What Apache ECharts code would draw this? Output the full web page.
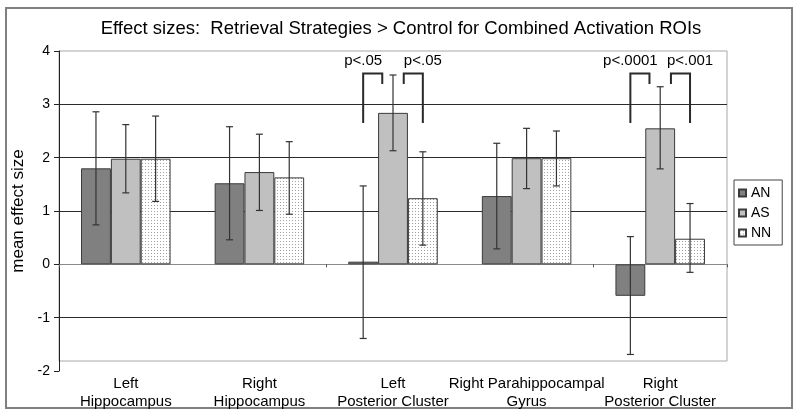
<!DOCTYPE html>
<html><head><meta charset="utf-8">
<script src="https://cdn.jsdelivr.net/npm/echarts@6/dist/echarts.min.js"></script>
<style>html,body{margin:0;padding:0;background:#fff}#c{width:800px;height:416px}</style>
</head><body><div id="c"></div>
<script>
// ---- data ----
const categories = ['Left\nHippocampus', 'Right\nHippocampus', 'Left\nPosterior Cluster', 'Right Parahippocampal\nGyrus', 'Right\nPosterior Cluster'];
const seriesNames = ['AN', 'AS', 'NN'];
const anMean = [1.80, 1.52, 0.05, 1.28, -0.59];
const anLow  = [0.74, 0.46, -1.39, 0.29, -1.69];
const anHigh = [2.86, 2.58, 1.47, 2.27, 0.52];
const asMean = [1.98, 1.73, 2.84, 1.99, 2.55];
const asLow  = [1.34, 1.01, 2.13, 1.42, 1.79];
const asHigh = [2.62, 2.44, 3.55, 2.55, 3.33];
const nnMean = [1.98, 1.63, 1.24, 1.99, 0.48];
const nnLow  = [1.18, 0.94, 0.36, 1.47, -0.15];
const nnHigh = [2.78, 2.30, 2.11, 2.50, 1.14];
const yTicks = [-2, -1, 0, 1, 2, 3, 4];
const sigCategory = [2, 2, 4, 4];
const sigLongBar  = [0, 2, 0, 2];
const sigShortBar = [1, 1, 1, 1];
const sigLabels = ['p<.05', 'p<.05', 'p<.0001', 'p<.001'];

// ---- rendering ----
const FONT = "'Liberation Sans', Arial, sans-serif";
const CAT_GAP = 0.33;
function dotPattern() {
  const c = document.createElement('canvas');
  c.width = 3; c.height = 3;
  const g = c.getContext('2d');
  g.fillStyle = '#ffffff'; g.fillRect(0, 0, 3, 3);
  g.fillStyle = '#a0a0a0'; g.fillRect(1, 1, 1, 1);
  return c;
}
const barColors = ['#808080', '#c0c0c0', { image: dotPattern(), repeat: 'repeat' }];
const means = [anMean, asMean, nnMean];
const lows = [anLow, asLow, nnLow];
const highs = [anHigh, asHigh, nnHigh];

function barWidthOf(api) {
  const band = api.size([1, 0])[0];
  return band * (1 - CAT_GAP) / 3;
}
function errorBarRender(barIdx) {
  return function (params, api) {
    const cat = api.value(0);
    const pLo = api.coord([cat, api.value(1)]);
    const pHi = api.coord([cat, api.value(2)]);
    const bw = barWidthOf(api);
    const x = pLo[0] + (barIdx - 1) * bw;
    const cap = 3.5;
    const style = { stroke: '#333', lineWidth: 1.2 };
    return { type: 'group', children: [
      { type: 'line', shape: { x1: x, y1: pHi[1], x2: x, y2: pLo[1] }, style },
      { type: 'line', shape: { x1: x - cap, y1: pHi[1], x2: x + cap, y2: pHi[1] }, style },
      { type: 'line', shape: { x1: x - cap, y1: pLo[1], x2: x + cap, y2: pLo[1] }, style }
    ] };
  };
}
const SIG_TOP = 3.58, SIG_LONG_END = 2.65, SIG_SHORT_END = 3.38, SIG_LABEL = 3.82;
function bracketRender(params, api) {
  const cat = api.value(0);
  const longIdx = api.value(2), shortIdx = api.value(3);
  const bw = barWidthOf(api);
  const c = api.coord([cat, SIG_TOP]);
  const xLong = c[0] + (longIdx - 1) * bw;
  const dir = longIdx < shortIdx ? -1 : 1;
  const xShort = c[0] + (shortIdx - 1) * bw + dir * 0.36 * bw;
  const yTop = c[1];
  const yLong = api.coord([cat, SIG_LONG_END])[1];
  const yShort = api.coord([cat, SIG_SHORT_END])[1];
  const yLab = api.coord([cat, SIG_LABEL])[1];
  return { type: 'group', children: [
    { type: 'polyline', shape: { points: [[xLong, yLong], [xLong, yTop], [xShort, yTop], [xShort, yShort]] },
      style: { stroke: '#2a2a2a', lineWidth: 2, fill: null } },
    { type: 'text', style: { x: xLong, y: yLab, text: sigLabels[params.dataIndex], align: 'center', verticalAlign: 'middle',
      font: '15px ' + FONT, fill: '#000' } }
  ] };
}

const series = [];
seriesNames.forEach((n, k) => {
  series.push({ name: n, type: 'bar', data: means[k], barGap: '0%', barCategoryGap: (CAT_GAP * 100) + '%',
    itemStyle: { color: barColors[k], borderColor: '#3a3a3a', borderWidth: 1 }, z: 3 });
});
seriesNames.forEach((n, k) => {
  series.push({ type: 'custom', renderItem: errorBarRender(k), z: 4,
    encode: { x: 0, y: [1, 2] },
    data: categories.map((_, i) => [i, lows[k][i], highs[k][i]]) });
});
series.push({ type: 'custom', renderItem: bracketRender, z: 4, clip: false,
  encode: { x: 0, y: 1 },
  data: sigCategory.map((c, i) => [c, SIG_TOP, sigLongBar[i], sigShortBar[i]]) });

const chart = echarts.init(document.getElementById('c'), null, { renderer: 'canvas' });
chart.setOption({
  animation: false,
  textStyle: { fontFamily: FONT },
  title: { text: 'Effect sizes:  Retrieval Strategies > Control for Combined Activation ROIs',
    left: 396, textAlign: 'center', top: 14,
    textStyle: { fontSize: 18.5, fontWeight: 'normal', color: '#000', fontFamily: FONT } },
  legend: { data: seriesNames, orient: 'vertical', left: 734, top: 180, icon: 'rect',
    itemWidth: 7, itemHeight: 7, itemGap: 6, padding: [6, 11, 5, 4],
    borderColor: '#444', borderWidth: 1, backgroundColor: '#fff',
    textStyle: { fontSize: 14, color: '#000', lineHeight: 14, fontFamily: FONT } },
  grid: { left: 59, right: 73, top: 51, bottom: 45 },
  graphic: [
    { type: 'rect', shape: { x: 59, y: 51, width: 668, height: 310 }, style: { fill: null, stroke: '#a8a8a8', lineWidth: 1 }, z: -1 },
    { type: 'rect', shape: { x: 6, y: 8, width: 786, height: 400 }, style: { fill: null, stroke: '#808080', lineWidth: 2 }, z: -1 }
  ],
  xAxis: [
    { type: 'category', data: categories, position: 'bottom',
      axisLine: { onZero: true, lineStyle: { color: '#8a8a8a', width: 1 } },
      axisTick: { show: true, length: 3, lineStyle: { color: '#555' } },
      axisLabel: { show: false }, splitLine: { show: false } },
    { type: 'category', data: categories, position: 'bottom',
      axisLine: { show: false, onZero: false }, axisTick: { show: false }, splitLine: { show: false },
      axisLabel: { show: true, margin: 4, fontSize: 15, lineHeight: 18, color: '#000', fontFamily: FONT, interval: 0 } }
  ],
  yAxis: { type: 'value', min: yTicks[0], max: yTicks[yTicks.length - 1], interval: yTicks[1] - yTicks[0],
    name: 'mean effect size', nameLocation: 'middle', nameGap: 27,
    nameTextStyle: { fontSize: 17, color: '#000', fontFamily: FONT },
    axisLine: { show: true, lineStyle: { color: '#222', width: 1 } },
    axisTick: { show: true, length: 5, lineStyle: { color: '#222' } },
    axisLabel: { fontSize: 14, color: '#000', margin: 9, fontFamily: FONT },
    splitLine: { show: true, lineStyle: { width: 1, color: ['transparent', '#2a2a2a', 'transparent', '#2a2a2a', '#2a2a2a', '#2a2a2a', 'transparent'] } } },
  series
});
</script></body></html>
